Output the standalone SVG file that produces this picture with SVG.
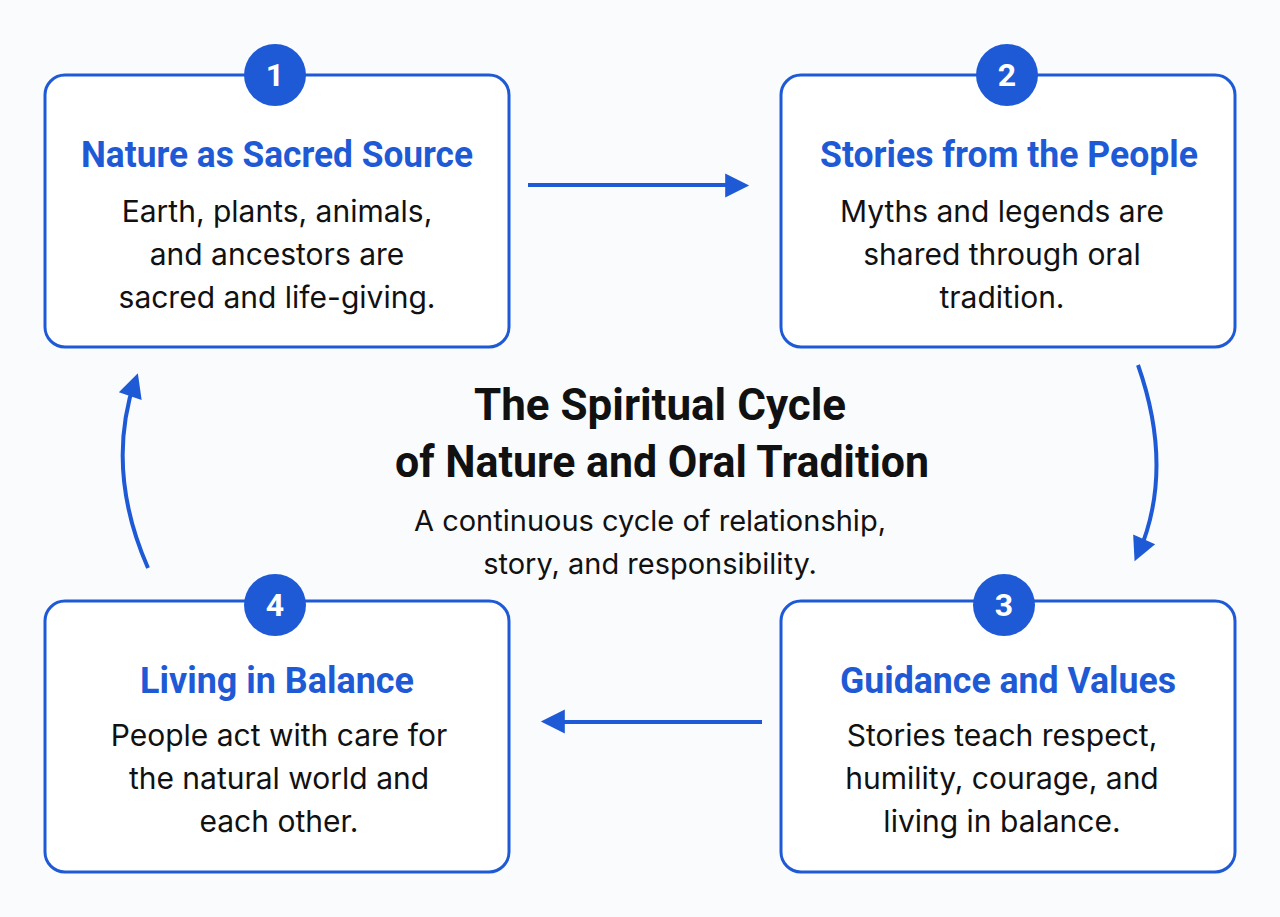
<svg xmlns="http://www.w3.org/2000/svg" width="1280" height="917" viewBox="0 0 1280 917">
<style>
.box{fill:#fff;stroke:#1f5ad6;stroke-width:3}
.num{fill:#1f5ad6}
.numt{fill:#fff;font:700 32px Roboto,"Liberation Sans",sans-serif;text-anchor:middle}
.ttl{fill:#1f5ad6;font:700 36px Roboto,"Liberation Sans",sans-serif;text-anchor:middle}
.body{fill:#111;font:400 30px Inter,Roboto,"Liberation Sans",sans-serif;text-anchor:middle}
.head{fill:#111;font:700 44px Roboto,"Liberation Sans",sans-serif;text-anchor:middle}
.sub{fill:#111;font:400 29px Inter,Roboto,"Liberation Sans",sans-serif;text-anchor:middle}
.con{fill:none;stroke:#1f5ad6;stroke-width:4}
</style>
<defs><marker id="ah" viewBox="0 0 10 10" refX="8" refY="5" markerWidth="6" markerHeight="6" orient="auto" markerUnits="userSpaceOnUse" style="overflow:visible"><path d="M0,0 L10,5 L0,10 z" fill="#1f5ad6" transform="scale(4) translate(-5,-3.5)"/></marker></defs>
<rect width="1280" height="917" fill="#fafbfd"/>
<g id="connectors">
<path class="con" d="M528,185 H742" marker-end="url(#ah)"/>
<path class="con" d="M1138,365 Q1175,470 1138,555" marker-end="url(#ah)"/>
<path class="con" d="M762,722 H548" marker-end="url(#ah)"/>
<path class="con" d="M148,568 Q105,470 135,380" marker-end="url(#ah)"/>
</g>
<g id="node1">
<rect class="box" x="45" y="75" width="464" height="272" rx="20"/>
<circle class="num" cx="275" cy="75" r="31"/><text class="numt" x="275" y="86">1</text>
<text class="ttl" x="277" y="167" textLength="392" lengthAdjust="spacingAndGlyphs">Nature as Sacred Source</text>
<text class="body" x="277" y="222">Earth, plants, animals,</text>
<text class="body" x="277" y="265">and ancestors are</text>
<text class="body" x="277" y="308">sacred and life-giving.</text>
</g>
<g id="node2">
<rect class="box" x="781" y="75" width="454" height="272" rx="20"/>
<circle class="num" cx="1007" cy="75" r="31"/><text class="numt" x="1007" y="86">2</text>
<text class="ttl" x="1009" y="167" textLength="378" lengthAdjust="spacingAndGlyphs">Stories from the People</text>
<text class="body" x="1002" y="222">Myths and legends are</text>
<text class="body" x="1002" y="265">shared through oral</text>
<text class="body" x="1002" y="308">tradition.</text>
</g>
<g id="node3">
<rect class="box" x="781" y="601" width="454" height="271" rx="20"/>
<circle class="num" cx="1004" cy="605" r="31"/><text class="numt" x="1004" y="616">3</text>
<text class="ttl" x="1008" y="693" textLength="336" lengthAdjust="spacingAndGlyphs">Guidance and Values</text>
<text class="body" x="1002" y="746">Stories teach respect,</text>
<text class="body" x="1002" y="789">humility, courage, and</text>
<text class="body" x="1002" y="832">living in balance.</text>
</g>
<g id="node4">
<rect class="box" x="45" y="601" width="464" height="271" rx="20"/>
<circle class="num" cx="275" cy="605" r="31"/><text class="numt" x="275" y="616">4</text>
<text class="ttl" x="277" y="693" textLength="274" lengthAdjust="spacingAndGlyphs">Living in Balance</text>
<text class="body" x="279" y="746">People act with care for</text>
<text class="body" x="279" y="789">the natural world and</text>
<text class="body" x="279" y="832">each other.</text>
</g>
<g id="center">
<text class="head" x="660" y="420" textLength="372" lengthAdjust="spacingAndGlyphs">The Spiritual Cycle</text>
<text class="head" x="662" y="477" textLength="534" lengthAdjust="spacingAndGlyphs">of Nature and Oral Tradition</text>
<text class="sub" x="650" y="531">A continuous cycle of relationship,</text>
<text class="sub" x="650" y="574">story, and responsibility.</text>
</g>
</svg>
